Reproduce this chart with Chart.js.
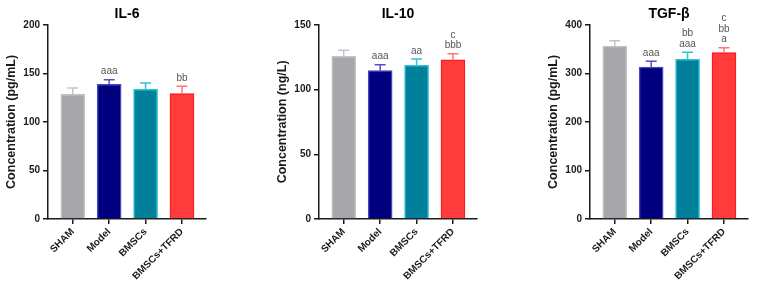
<!DOCTYPE html>
<html>
<head>
<meta charset="utf-8">
<script src="https://cdn.jsdelivr.net/npm/chart.js@4.4.1/dist/chart.umd.min.js"></script>
<style>
  html, body { margin: 0; padding: 0; background: #fff; }
  #wrap { position: relative; width: 758px; height: 289px; overflow: hidden; }
  #wrap canvas { position: absolute; top: 0; }
</style>
</head>
<body>
<div id="wrap">
  <canvas id="c1" width="214" height="289" style="left:0px"></canvas>
  <canvas id="c2" width="214" height="289" style="left:271px"></canvas>
  <canvas id="c3" width="214" height="289" style="left:542px"></canvas>
</div>
<script>
// groups on the x axis
const groups = ['SHAM', 'Model', 'BMSCs', 'BMSCs+TFRD'];

// IL-6 (pg/mL)
const il6Mean = [128.5, 138.8, 133.5, 129.2];
const il6Sd = [6.5, 4.7, 6.5, 7.5];
const il6Marks = [[], ['aaa'], [], ['bb']];
const il6Ticks = [0, 50, 100, 150, 200];

// IL-10 (ng/L)
const il10Mean = [125.6, 114.6, 118.6, 123.0];
const il10Sd = [4.8, 4.6, 4.9, 4.6];
const il10Marks = [[], ['aaa'], ['aa'], ['c', 'bbb']];
const il10Ticks = [0, 50, 100, 150];

// TGF-β (pg/mL)
const tgfMean = [356, 312.8, 329, 343];
const tgfSd = [11, 12.2, 14.5, 9.7];
const tgfMarks = [[], ['aaa'], ['bb', 'aaa'], ['c', 'bb', 'a']];
const tgfTicks = [0, 100, 200, 300, 400];

const fillColors = ['#a7a7ab', '#00007e', '#00809a', '#ff3b3b'];
const edgeColors = ['#c4c4c8', '#4646c4', '#2cc2d2', '#ff1a1a'];
const errColors  = ['#c4c4c8', '#5050d0', '#2cc4d4', '#ff7474'];

const FONT = '"Liberation Sans", Arial, sans-serif';
const INK = '#1a1a1a';

// draws SD caps and the significance letters from the y scale
const errorBars = {
  id: 'errorBars',
  afterDatasetsDraw(chart, args, opts) {
    const { ctx } = chart;
    const xs = chart.scales.x, ys = chart.scales.y;
    ctx.save();
    opts.mean.forEach((m, i) => {
      const x = xs.getPixelForValue(i);
      const yb = ys.getPixelForValue(m);
      const yt = ys.getPixelForValue(m + opts.sd[i]);
      ctx.strokeStyle = errColors[i];
      ctx.lineWidth = 1.5;
      ctx.beginPath();
      ctx.moveTo(x, yb);
      ctx.lineTo(x, yt);
      ctx.moveTo(x - 5.5, yt);
      ctx.lineTo(x + 5.5, yt);
      ctx.stroke();

      const lines = opts.marks[i];
      ctx.fillStyle = '#555';
      ctx.font = '10px ' + FONT;
      ctx.textAlign = 'center';
      ctx.textBaseline = 'alphabetic';
      lines.forEach((t, k) => {
        const fromBottom = lines.length - 1 - k;
        ctx.fillText(t, x, yt - 5.5 - fromBottom * 10.7);
      });
    });
    ctx.restore();
  }
};

function makePanel(id, title, yTitle, mean, sd, marks, ticks) {
  const ymax = ticks[ticks.length - 1];
  new Chart(document.getElementById(id), {
    type: 'bar',
    data: {
      datasets: [{
        data: mean.map((v, i) => ({ x: i, y: v })),
        backgroundColor: fillColors,
        borderColor: edgeColors,
        borderWidth: 1.5,
        barThickness: 24
      }]
    },
    options: {
      responsive: false,
      animation: false,
      events: [],
      layout: { padding: { left: 0, right: 8, top: 0, bottom: 0 } },
      plugins: {
        legend: { display: false },
        tooltip: { enabled: false },
        title: {
          display: true,
          text: title,
          fullSize: false,
          color: '#000',
          font: { family: FONT, size: 14, weight: 'bold' },
          padding: { top: 6, bottom: 2 }
        },
        errorBars: { mean: mean, sd: sd, marks: marks }
      },
      scales: {
        x: {
          type: 'linear',
          min: -0.68,
          max: 3.66,
          offset: false,
          afterBuildTicks: (s) => { s.ticks = groups.map((_, i) => ({ value: i })); },
          afterFit: (s) => { s.height = 70; },
          border: { display: true, color: INK, width: 1.5 },
          grid: { display: true, offset: false, drawOnChartArea: false, drawTicks: true, tickLength: 5, color: INK, lineWidth: 1.5 },
          ticks: {
            callback: (v) => groups[v],
            minRotation: 45,
            maxRotation: 45,
            autoSkip: false,
            padding: 2,
            color: INK,
            font: { family: FONT, size: 10, weight: 'bold' }
          }
        },
        y: {
          min: 0,
          max: ymax,
          afterBuildTicks: (s) => { s.ticks = ticks.map(v => ({ value: v })); },
          afterFit: (s) => { s.width = 48; },
          border: { display: true, color: INK, width: 1.5 },
          grid: { display: true, drawOnChartArea: false, drawTicks: true, tickLength: 5, color: INK, lineWidth: 1.5 },
          ticks: {
            padding: 3,
            color: INK,
            font: { family: FONT, size: 10, weight: 'bold' }
          },
          title: {
            display: true,
            text: yTitle,
            color: INK,
            padding: { top: 4, bottom: 4 },
            font: { family: FONT, size: 12.5, weight: 'bold' }
          }
        }
      }
    },
    plugins: [errorBars]
  });
}

makePanel('c1', 'IL-6', 'Concentration (pg/mL)', il6Mean, il6Sd, il6Marks, il6Ticks);
makePanel('c2', 'IL-10', 'Concentration (ng/L)', il10Mean, il10Sd, il10Marks, il10Ticks);
makePanel('c3', 'TGF-β', 'Concentration (pg/mL)', tgfMean, tgfSd, tgfMarks, tgfTicks);
</script>
</body>
</html>
